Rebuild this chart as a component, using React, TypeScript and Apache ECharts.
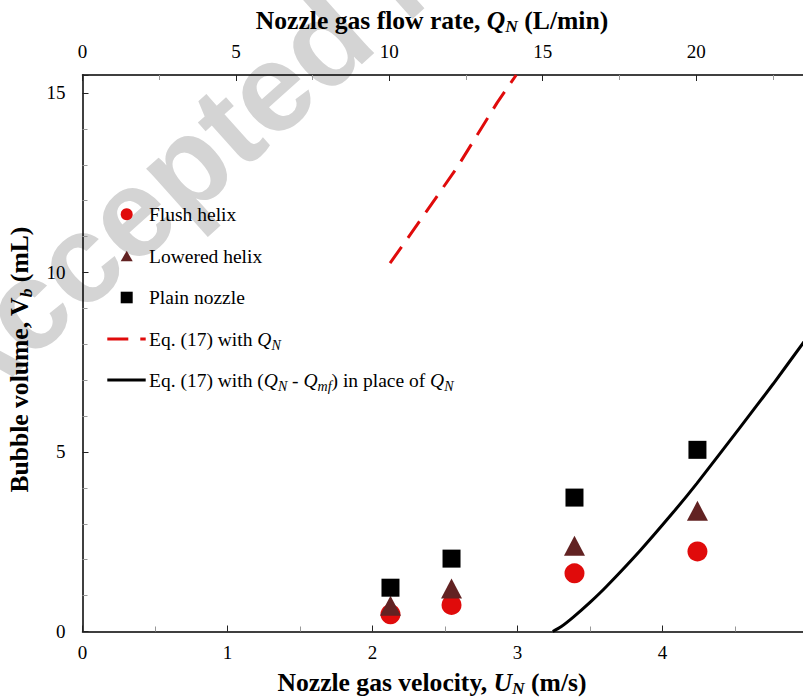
import React, { useEffect, useRef } from "react";
import * as echarts from "echarts";

// Nozzle gas velocity (m/s) for the measured points
const U_N = [2.124, 2.545, 3.393, 4.241];
// Bubble volume (mL)
const FLUSH_HELIX = [0.48, 0.74, 1.62, 2.23];
const LOWERED_HELIX = [0.72, 1.2, 2.39, 3.36];
const PLAIN_NOZZLE = [1.22, 2.03, 3.73, 5.06];
// Eq. (17) with Q_N
const EQ_Q_U = [2.121, 2.331, 2.584, 2.86, 2.991];
const EQ_Q_V = [10.26, 11.46, 12.93, 14.73, 15.5];
// Eq. (17) with (Q_N - Q_mf)
const EQ_QMF_U = [3.243, 3.3, 3.385, 3.5, 3.615, 3.845, 4.074, 4.236, 4.534, 4.764, 4.969, 5.0];
const EQ_QMF_V = [0, 0.13, 0.4, 0.81, 1.26, 2.25, 3.32, 4.12, 5.68, 6.9, 8.03, 8.18];
// Axis ranges
const U_MAX = 5;
const Q_MAX = 23.63;
const V_MAX = 15.5;

const SERIF = "Liberation Serif";
const SANS = "Liberation Sans";
const RED = "#E00B0B";
const BROWN = "#622222";

const nameRich = {
  i: { fontStyle: "italic", fontWeight: "bold", fontSize: 25.6, fontFamily: SERIF, lineHeight: 32, color: "#000" },
  s: { fontStyle: "italic", fontWeight: "bold", fontSize: 17.5, fontFamily: SERIF, lineHeight: 32, padding: [12, 0, 0, 0], color: "#000" },
  b: { fontWeight: "bold", fontSize: 25.6, fontFamily: SERIF, lineHeight: 32, color: "#000" },
};

const legRich = {
  i: { fontStyle: "italic", fontSize: 19.5, fontFamily: SERIF, lineHeight: 24, fill: "#000" },
  s: { fontStyle: "italic", fontSize: 14, fontFamily: SERIF, lineHeight: 24, padding: [12, 0, 0, 0], fill: "#000" },
  n: { fontSize: 19.5, fontFamily: SERIF, lineHeight: 24, fill: "#000" },
};

function legendText(y: number, text: string) {
  return {
    type: "text",
    x: 149,
    y,
    z: 100,
    style: {
      text,
      fontSize: 19.5,
      fontFamily: SERIF,
      fill: "#000",
      verticalAlign: "middle",
      align: "left",
      rich: legRich,
    },
  };
}

export default function App() {
  const ref = useRef<HTMLDivElement>(null);
  useEffect(() => {
    document.body.style.margin = "0";
    const chart = echarts.init(ref.current!, null, { renderer: "svg" });
    const axisLine = { show: true, onZero: false, lineStyle: { color: "#000", width: 1.5 } };
    const axisTick = { show: true, inside: true, length: 6, lineStyle: { color: "#222", width: 1 } };
    const minorTick = { show: true, splitNumber: 2, length: 5, lineStyle: { color: "#999", width: 1 } };
    const labelStyle = { fontFamily: SERIF, fontSize: 19, color: "#000" };
    const nameStyle = (padRight: number) => ({
      fontFamily: SERIF,
      fontSize: 25.6,
      fontWeight: "bold",
      color: "#000",
      lineHeight: 32,
      padding: [0, padRight, 0, 0],
      rich: nameRich,
    });

    const option: any = {
      animation: false,
      backgroundColor: "#fff",
      grid: {
        left: 82.5,
        right: -4.5,
        top: 75,
        bottom: 68.5,
        show: false,
        containLabel: false,
        outerBoundsMode: "none",
      },
      xAxis: [
        {
          type: "value",
          position: "bottom",
          min: 0,
          max: U_MAX,
          interval: 1,
          axisLine,
          axisTick,
          minorTick,
          splitLine: { show: false },
          axisLabel: { ...labelStyle, margin: 11 },
          name: "Nozzle gas velocity, {i|U}{s|N}{b| (m/s)}",
          nameLocation: "middle",
          nameGap: 34,
          nameTextStyle: nameStyle(26),
        },
        {
          type: "value",
          position: "top",
          min: 0,
          max: Q_MAX,
          interval: 5,
          axisLine,
          axisTick,
          minorTick,
          splitLine: { show: false },
          axisLabel: { ...labelStyle, margin: 14, showMaxLabel: false },
          name: "Nozzle gas flow rate, {i|Q}{s|N}{b| (L/min)}",
          nameLocation: "middle",
          nameGap: 39,
          nameTextStyle: nameStyle(26),
        },
      ],
      yAxis: {
        type: "value",
        min: 0,
        max: V_MAX,
        interval: 5,
        axisLine,
        axisTick,
        minorTick: { ...minorTick, splitNumber: 5 },
        splitLine: { show: false },
        axisLabel: { ...labelStyle, margin: 17, showMaxLabel: false },
        name: "Bubble volume, V{s|b}{b| (mL)}",
        nameLocation: "middle",
        nameRotate: 90,
        nameGap: 38,
        nameTextStyle: nameStyle(13),
      },
      series: [
        {
          name: "Flush helix",
          type: "scatter",
          symbol: "circle",
          symbolSize: 20,
          itemStyle: { color: RED, opacity: 1 },
          data: U_N.map((u, i) => [u, FLUSH_HELIX[i]]),
          z: 3,
        },
        {
          name: "Lowered helix",
          type: "scatter",
          symbol: "triangle",
          symbolSize: [21, 20],
          itemStyle: { color: BROWN, opacity: 1 },
          data: U_N.map((u, i) => [u, LOWERED_HELIX[i]]),
          z: 4,
        },
        {
          name: "Plain nozzle",
          type: "scatter",
          symbol: "rect",
          symbolSize: 18,
          itemStyle: { color: "#000", opacity: 1 },
          data: U_N.map((u, i) => [u, PLAIN_NOZZLE[i]]),
          z: 5,
        },
        {
          name: "Eq. (17) with Q_N",
          type: "line",
          showSymbol: false,
          symbol: "none",
          clip: true,
          lineStyle: { color: RED, width: 3, type: [20, 11] },
          data: EQ_Q_U.map((u, i) => [u, EQ_Q_V[i]]),
          z: 6,
        },
        {
          name: "Eq. (17) with (Q_N - Q_mf) in place of Q_N",
          type: "line",
          showSymbol: false,
          symbol: "none",
          smooth: 0.25,
          clip: true,
          lineStyle: { color: "#000", width: 3 },
          data: EQ_QMF_U.map((u, i) => [u, EQ_QMF_V[i]]),
          z: 6,
        },
      ],
      graphic: {
        elements: [
          {
            type: "text",
            x: -26,
            y: 437,
            rotation: 0.73,
            z: -10,
            silent: true,
            style: {
              text: "Accepted Manuscript",
              fontSize: 125,
              fontWeight: "bold",
              fontFamily: SANS,
              fill: "#d4d4d4",
              verticalAlign: "bottom",
              align: "left",
            },
          },
          { type: "circle", z: 100, shape: { cx: 126.7, cy: 214.3, r: 6 }, style: { fill: RED } },
          {
            type: "polygon",
            z: 100,
            shape: { points: [[120.7, 261.3], [132.7, 261.3], [126.7, 250.7]] },
            style: { fill: BROWN },
          },
          { type: "rect", z: 100, shape: { x: 120.7, y: 291.7, width: 12, height: 11.6 }, style: { fill: "#000" } },
          {
            type: "line",
            z: 100,
            shape: { x1: 107.3, y1: 339, x2: 145.7, y2: 339 },
            style: { stroke: RED, lineWidth: 3, lineDash: [21, 12] },
          },
          {
            type: "line",
            z: 100,
            shape: { x1: 107.3, y1: 380, x2: 145.7, y2: 380 },
            style: { stroke: "#000", lineWidth: 3 },
          },
          legendText(214, "Flush helix"),
          legendText(256, "Lowered helix"),
          legendText(297, "Plain nozzle"),
          legendText(339, "{n|Eq. (17) with }{i|Q}{s|N}"),
          legendText(380, "{n|Eq. (17) with (}{i|Q}{s|N}{n| - }{i|Q}{s|mf}{n|) in place of }{i|Q}{s|N}"),
        ],
      },
    };
    chart.setOption(option);
    return () => chart.dispose();
  }, []);
  return (
    <div
      ref={ref}
      style={{ position: "absolute", left: 0, top: 0, width: 803, height: 700, overflow: "hidden" }}
    />
  );
}
